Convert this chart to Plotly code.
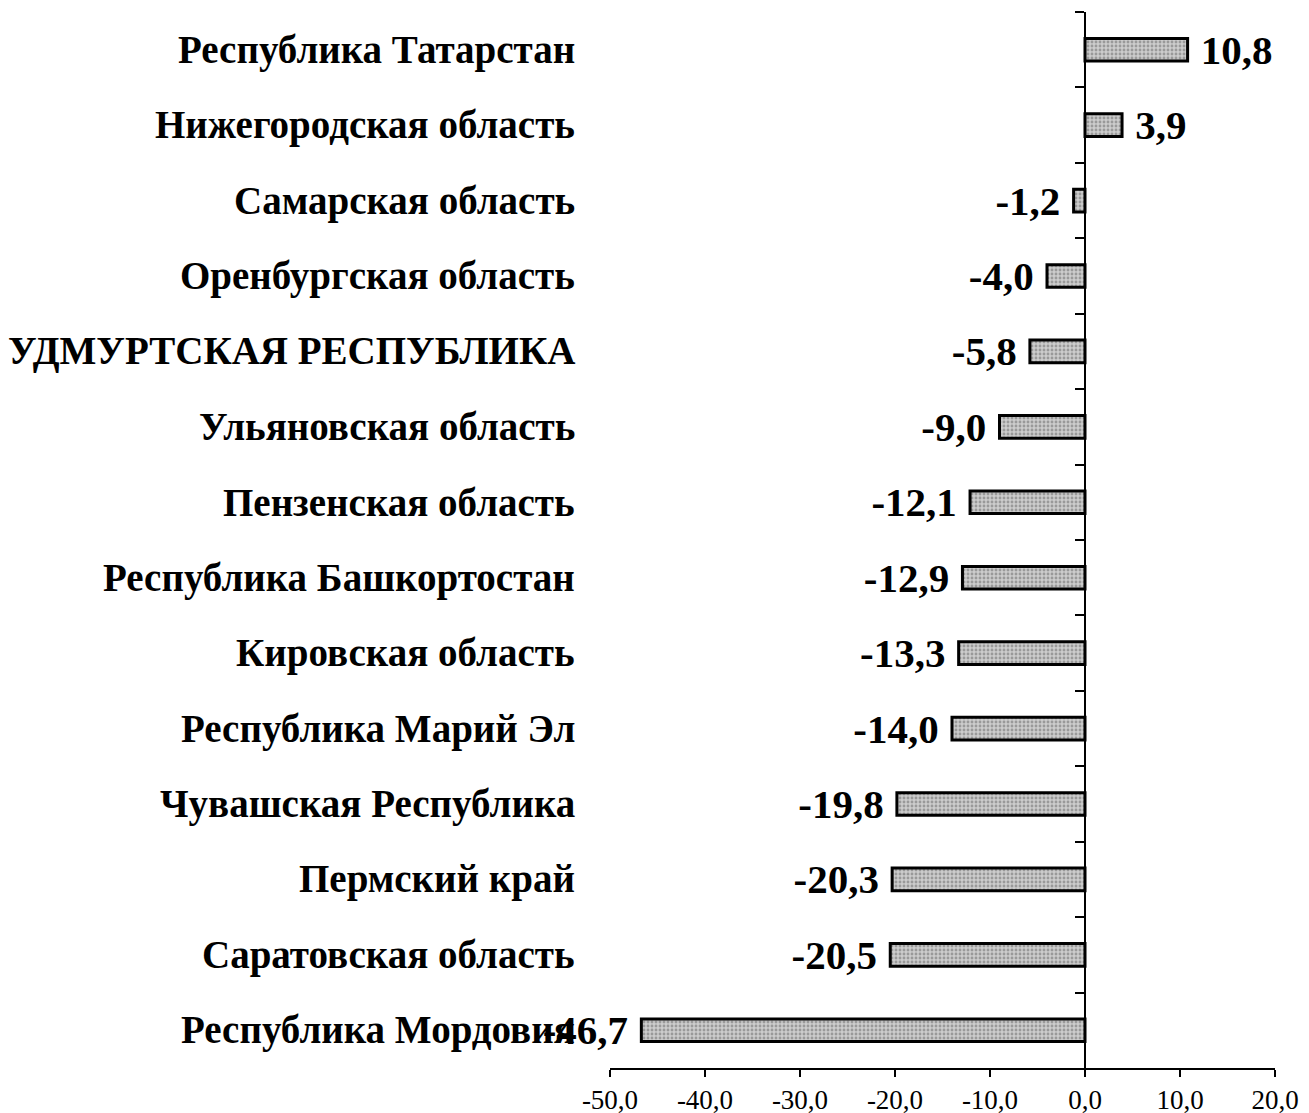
import plotly.graph_objects as go

regions = [
    "Республика Татарстан",
    "Нижегородская область",
    "Самарская область",
    "Оренбургская область",
    "УДМУРТСКАЯ РЕСПУБЛИКА",
    "Ульяновская область",
    "Пензенская область",
    "Республика Башкортостан",
    "Кировская область",
    "Республика Марий Эл",
    "Чувашская Республика",
    "Пермский край",
    "Саратовская область",
    "Республика Мордовия",
]
values = [10.8, 3.9, -1.2, -4.0, -5.8, -9.0, -12.1, -12.9, -13.3, -14.0, -19.8, -20.3, -20.5, -46.7]

x_tickvals = [-50, -40, -30, -20, -10, 0, 10, 20]
x_ticktext = ["-50,0", "-40,0", "-30,0", "-20,0", "-10,0", "0,0", "10,0", "20,0"]

NB = "\u00a0"
labels = []
for v in values:
    s = f"{v:.1f}".replace(".", ",")
    labels.append(NB + s if v >= 0 else s + NB)

FONT = "Liberation Serif, Times New Roman, serif"

fig = go.Figure()
fig.add_trace(go.Bar(
    x=values, y=regions, orientation="h", width=0.3,
    marker=dict(color="#c4c4c4", line=dict(color="black", width=3),
                pattern=dict(shape=".", fgcolor="#666666", bgcolor="#cccccc", size=4, solidity=0.4)),
    text=labels, textposition="outside", constraintext="none", cliponaxis=False,
    textfont=dict(family=FONT, size=41, color="black", weight="bold"),
    showlegend=False,
))

for r in regions:
    fig.add_annotation(x=-0.05, xref="paper", y=r, yref="y", text=r, showarrow=False,
                       xanchor="right", yanchor="middle",
                       font=dict(family=FONT, size=39, color="black", weight="bold"))

fig.update_layout(
    width=1301, height=1105,
    margin=dict(l=602, r=34, t=4, b=45),
    paper_bgcolor="white", plot_bgcolor="white",
    xaxis=dict(range=[-50, 20], tickvals=x_tickvals, ticktext=x_ticktext, automargin=False,
               showline=True, linecolor="black", linewidth=2, ticks="outside",
               ticklen=7, tickwidth=2, tickcolor="black", showgrid=False, zeroline=False,
               tickfont=dict(family=FONT, size=27, color="black")),
    yaxis=dict(autorange="reversed", anchor="free", position=50 / 70, automargin=False,
               showline=True, linecolor="black", linewidth=2, ticks="outside",
               tickson="boundaries", ticklen=9, tickwidth=2, tickcolor="black",
               showticklabels=False, showgrid=False, zeroline=False),
)

fig.write_html("out.html")
